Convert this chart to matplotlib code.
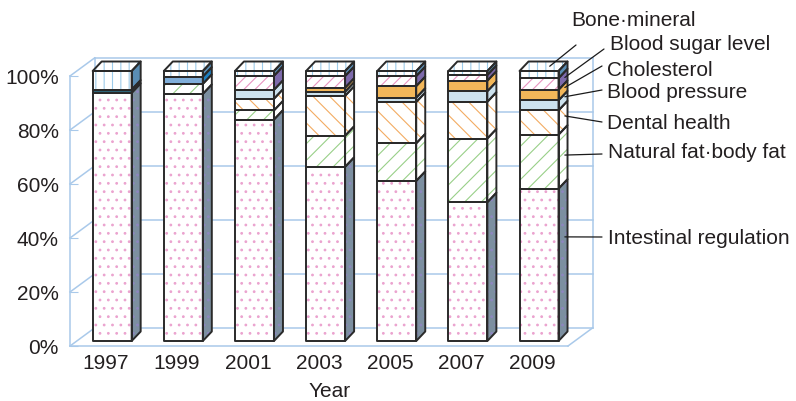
import numpy as np
import matplotlib.pyplot as plt
from matplotlib.patches import Polygon

plt.rcParams["font.family"] = ["Liberation Sans", "DejaVu Sans"]
plt.rcParams["hatch.linewidth"] = 0.8

# ---------- data (share of products per claim, stacked to 100%) ----------

years = ["1997", "1999", "2001", "2003", "2005", "2007", "2009"]
categories = ["Intestinal regulation", "Natural fat·body fat", "Dental health",
              "Blood pressure", "Cholesterol", "Blood sugar level", "Bone·mineral"]

intestinal = [91.9, 91.5, 82.0, 64.5, 59.3, 51.4, 56.4]
natural_fat = [0.0, 3.7, 3.4, 11.5, 13.9, 23.6, 20.0]
dental = [0.0, 0.0, 4.3, 14.8, 15.3, 13.6, 9.0]
blood_pressure = [1.2, 2.7, 3.3, 1.5, 1.6, 3.9, 3.7]
cholesterol = [0.0, 0.0, 0.0, 1.5, 4.3, 3.9, 3.9]
blood_sugar = [0.0, 0.0, 5.2, 4.3, 3.7, 2.1, 4.3]
bone_mineral = [6.9, 2.1, 1.8, 1.9, 1.9, 1.5, 2.7]

values = np.array([intestinal, natural_fat, dental, blood_pressure,
                   cholesterol, blood_sugar, bone_mineral])
pct = values / values.sum(axis=0) * 100

# ---------- styles ----------

# front face, front hatch, hatch colour, side face, side hatch, side hatch colour
face_styles = {
    "Intestinal regulation": ("white", "..", "#eba3cf", "#7c8fa0", "..", "#8d86bf"),
    "Natural fat·body fat": ("white", "//", "#98cf88", "white", "//", "#98cf88"),
    "Dental health": ("white", "\\\\", "#f3ab62", "white", "\\\\", "#f3ab62"),
    "Blood pressure": ("#cde2ee", None, None, "#cde2ee", None, None),
    "Cholesterol": ("#f2b75a", None, None, "#f2b75a", None, None),
    "Blood sugar level": ("white", "///", "#e893c0", "#7d6aab", None, None),
    "Bone·mineral": ("white", "||", "#9dcbea", "#5a8db4", None, None),
}
# a couple of early bars were printed in other blues
color_override = {
    (0, "Blood pressure"): ("#2f6579", "#244b5b"),
    (1, "Blood pressure"): ("#80aed9", "#1c7fc2"),
}

grid_c = "#a9c9ea"
edge_c = "#2a2a2a"
text_c = "#231f20"

W, H = 796, 402
fig = plt.figure(figsize=(W / 100, H / 100), dpi=100)
ax = fig.add_axes([70 / W, 55 / H, 498 / W, 270 / H])
n = len(years)
ax.set_xlim(-0.5, n - 0.5)
ax.set_ylim(0, 100)

# pixel -> data units
ux = n / 498
uy = 100 / 270

# wall depth, bar depth and bar placement inside the box
wdx, wdy = 24.5 * ux, 18 * uy
bdx, bdy = 9 * ux, 9.5 * uy
bx0, by0 = 6.6 * ux, 5 * uy
bw = 39 * ux


def poly(verts, fc, hatch=None, hc=None, z=3):
    ax.add_patch(Polygon(verts, closed=True, facecolor=fc, edgecolor=hc if hc else fc,
                         linewidth=0, hatch=hatch, clip_on=False, zorder=z))
    ax.add_patch(Polygon(verts, closed=True, fill=False, edgecolor=edge_c,
                         linewidth=1.4, joinstyle="round", clip_on=False, zorder=z + 0.5))


def line(xs, ys):
    ax.plot(xs, ys, color=grid_c, lw=1.1, clip_on=False, zorder=1)


# ---------- box: back wall, side wall, floor ----------
x0, x1 = -0.5, n - 0.5
for v in range(0, 101, 20):
    line([x0 + wdx, x1 + wdx], [v + wdy, v + wdy])
    line([x0, x0 + wdx], [v, v + wdy])
line([x0 + wdx, x0 + wdx], [wdy, 100 + wdy])
line([x1 + wdx, x1 + wdx], [wdy, 100 + wdy])
line([x1, x1 + wdx], [0, wdy])

for s in ["top", "right"]:
    ax.spines[s].set_visible(False)
for s in ["left", "bottom"]:
    ax.spines[s].set_color(grid_c)
    ax.spines[s].set_linewidth(1.1)

ax.set_yticks(range(0, 101, 20), labels=[f"{v}%" for v in range(0, 101, 20)])
ax.set_xticks(range(n), labels=years)
ax.tick_params(axis="y", direction="in", length=6, color=grid_c, pad=8,
               labelsize=15, labelcolor=text_c)
ax.tick_params(axis="x", length=0, pad=5, labelsize=15, labelcolor=text_c)
ax.set_xlabel("Year", fontsize=15, color=text_c)
ax.xaxis.set_label_coords(0.522, -0.13)

# ---------- stacked 3-D bars ----------
seg_bounds = {}
for i in range(n):
    xl = i + bx0 - bw / 2
    xr = xl + bw
    bottom = by0
    for k, cat in enumerate(categories):
        h = pct[k, i]
        if h <= 0:
            continue
        fc, fh, hc, sc, sh, shc = face_styles[cat]
        if (i, cat) in color_override:
            fc, sc = color_override[(i, cat)]
            fh = sh = None
        top = bottom + h
        poly([(xl, bottom), (xr, bottom), (xr, top), (xl, top)], fc, fh, hc)
        poly([(xr, bottom), (xr + bdx, bottom + bdy), (xr + bdx, top + bdy), (xr, top)],
             sc, sh, shc)
        seg_bounds[(i, cat)] = (bottom, top)
        bottom = top
    fc, fh, hc, sc, _, _ = face_styles["Bone·mineral"]
    poly([(xl, bottom), (xr, bottom), (xr + bdx, bottom + bdy), (xl + bdx, bottom + bdy)],
         "white", fh, hc)

# ---------- labels with leader lines to the 2009 bar ----------
last = n - 1
xl = last + bx0 - bw / 2
xr = xl + bw
# text left edge / centre (pixels from top-left), leader end, anchor fraction in segment
label_pos = {
    "Bone·mineral": ((571, 20), (576, 46), None),
    "Blood sugar level": ((610, 45), (604, 50), 0.5),
    "Cholesterol": ((607, 70), (602, 67), 0.6),
    "Blood pressure": ((607, 92), (602, 91), 0.7),
    "Dental health": ((607, 124), (602, 123), 0.5),
    "Natural fat·body fat": ((608, 153), (602, 155), 0.5),
    "Intestinal regulation": ((608, 239), (602, 238), 0.64),
}
for cat in categories:
    (tx, ty), (ex, ey), frac = label_pos[cat]
    fig.text(tx / W, 1 - ty / H, cat, ha="left", va="center", fontsize=15, color=text_c)
    if frac is None:
        top = seg_bounds[(last, cat)][1]
        anchor = (last + bx0 + 0.15, top + 0.5 * bdy)
    else:
        b, t = seg_bounds[(last, cat)]
        sidef = 0.7
        anchor = (xr + sidef * bdx, b + frac * (t - b) + sidef * bdy)
    ax.annotate("", xy=anchor, xytext=(ex, H - ey), textcoords="figure pixels",
                arrowprops=dict(arrowstyle="-", color="#1a1a1a", lw=0.9,
                                shrinkA=0, shrinkB=0),
                annotation_clip=False, zorder=6)

fig.savefig("out.png", dpi=100)
